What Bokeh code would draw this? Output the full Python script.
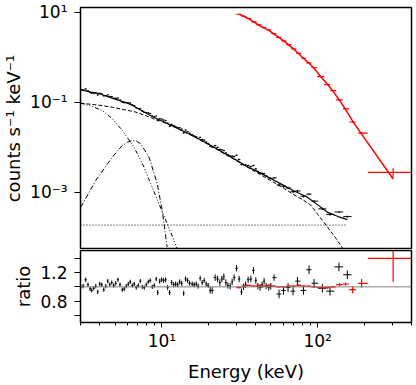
import numpy as np
from bokeh.plotting import figure
from bokeh.layouts import column
from bokeh.models import Range1d, FixedTicker, Span
from bokeh.embed import file_html
from bokeh.resources import INLINE

# ---------------- data ----------------
# black spectrum: bin centres (keV), flux (counts s^-1 keV^-1), ratio, ratio error
black_energy = [3.01, 3.12, 3.24, 3.35, 3.46, 3.54, 3.65, 3.76, 3.87, 3.99,
                4.11, 4.23, 4.36, 4.49, 4.62, 4.76, 4.90, 5.05, 5.22, 5.38,
                5.57, 5.73, 5.90, 6.08, 6.26, 6.45, 6.64, 6.84, 7.05, 7.26,
                7.48, 7.70, 7.93, 8.17, 8.41, 8.67, 8.93, 9.19, 9.39, 9.67,
                9.96, 10.25, 10.56, 10.88, 11.20, 11.54, 11.89, 12.24, 12.61, 12.99,
                13.38, 13.78, 14.19, 14.61, 15.05, 15.64, 16.11, 16.60, 17.09, 17.60,
                18.13, 18.67, 19.23, 19.81, 20.40, 21.01, 21.96, 22.76, 23.54, 24.25,
                24.97, 25.72, 26.49, 27.41, 28.23, 29.08, 30.12, 31.30, 32.43, 33.40,
                34.40, 35.75, 37.20, 38.71, 40.05, 41.25, 42.67, 43.95, 45.27, 46.62,
                48.52, 49.97, 52.47, 56.49, 60.27, 64.49, 69.45, 74.13, 80.97, 87.96,
                94.70, 107.2, 119.9, 136.9, 155.0]
black_flux = [0.189, 0.185, 0.196, 0.178, 0.163, 0.158, 0.159, 0.161, 0.144, 0.158,
              0.152, 0.138, 0.140, 0.145, 0.134, 0.133, 0.122, 0.122, 0.123, 0.111,
              0.100, 0.097, 0.098, 0.097, 0.095, 0.087, 0.084, 0.075, 0.072, 0.072,
              0.064, 0.059, 0.059, 0.058, 0.056, 0.049, 0.047, 0.049, 0.039, 0.043,
              0.042, 0.040, 0.039, 0.034, 0.029, 0.032, 0.030, 0.0288, 0.0272, 0.0270,
              0.0252, 0.0207, 0.0241, 0.0223, 0.0204, 0.0188, 0.0177, 0.0170, 0.0157, 0.0165,
              0.0147, 0.0144, 0.0130, 0.0120, 0.0105, 0.0100, 0.0108, 0.0099, 0.0089, 0.0087,
              0.0084, 0.0074, 0.0068, 0.0063, 0.0063, 0.0062, 0.0066, 0.0053, 0.0041, 0.0041,
              0.0040, 0.0039, 0.0037, 0.0039, 0.0033, 0.00287, 0.00264, 0.00261, 0.00258, 0.00229,
              0.00209, 0.00202, 0.00207, 0.00144, 0.00135, 0.00124, 0.00102, 0.00106, 0.00081, 0.00090,
              0.00063, 0.000424, 0.000319, 0.000361, 0.000285]
black_ratio = [1.00, 1.01, 1.10, 1.03, 0.97, 0.95, 0.98, 1.01, 0.93, 1.04,
               1.03, 0.96, 1.01, 1.08, 1.03, 1.06, 1.02, 1.05, 1.10, 1.03,
               0.96, 0.97, 1.01, 1.04, 1.07, 1.02, 1.04, 0.99, 1.02, 1.08,
               1.00, 0.99, 1.03, 1.07, 1.09, 1.00, 1.02, 1.11, 0.92, 1.08,
               1.10, 1.09, 1.10, 0.99, 0.92, 1.06, 1.03, 1.04, 1.03, 1.07,
               1.05, 0.91, 1.11, 1.09, 1.05, 1.04, 1.03, 1.04, 1.01, 1.12,
               1.06, 1.09, 1.04, 1.02, 0.95, 0.95, 1.13, 1.11, 1.06, 1.11,
               1.14, 1.06, 1.02, 1.01, 1.07, 1.13, 1.26, 1.11, 0.93, 1.00,
               1.03, 1.10, 1.11, 1.23, 1.09, 1.01, 0.99, 1.03, 1.08, 1.01,
               0.99, 1.01, 1.13, 0.90, 0.95, 0.99, 0.94, 1.08, 0.95, 1.24,
               1.05, 0.98, 0.94, 1.28, 1.17]
black_ratio_err = [0.03, 0.03, 0.03, 0.03, 0.03, 0.03, 0.03, 0.03, 0.03, 0.03,
                   0.03, 0.03, 0.03, 0.03, 0.03, 0.03, 0.03, 0.03, 0.03, 0.03,
                   0.03, 0.03, 0.03, 0.03, 0.03, 0.03, 0.03, 0.03, 0.03, 0.03,
                   0.03, 0.03, 0.03, 0.03, 0.03, 0.03, 0.03, 0.03, 0.035, 0.035,
                   0.035, 0.035, 0.035, 0.035, 0.035, 0.035, 0.035, 0.035, 0.035, 0.035,
                   0.035, 0.035, 0.035, 0.035, 0.035, 0.035, 0.035, 0.035, 0.035, 0.035,
                   0.035, 0.035, 0.035, 0.035, 0.045, 0.045, 0.045, 0.045, 0.045, 0.045,
                   0.045, 0.045, 0.045, 0.045, 0.045, 0.045, 0.045, 0.045, 0.045, 0.045,
                   0.045, 0.045, 0.045, 0.045, 0.045, 0.045, 0.045, 0.045, 0.045, 0.045,
                   0.045, 0.045, 0.045, 0.06, 0.06, 0.06, 0.06, 0.06, 0.06, 0.06,
                   0.06, 0.06, 0.06, 0.06, 0.06]

# black model components
total_e = [3.0, 3.5, 4.0, 5.0, 6.0, 6.5, 7.0, 8.0, 9.0, 10, 12, 15, 20, 25, 30,
           35, 40, 50, 60, 70, 85, 100, 115, 135, 155]
total_model = [0.19, 0.167, 0.152, 0.117, 0.095, 0.0845, 0.072, 0.056, 0.045, 0.038,
               0.0285, 0.0195, 0.0116, 0.0074, 0.0052, 0.0037, 0.0030, 0.0020, 0.00143,
               0.00107, 0.00079, 0.00052, 0.00036, 0.000286, 0.000244]
cutoffpl_e = [3.0, 4.0, 4.8, 6.0, 6.8, 8.0, 9.1, 10, 12, 15, 20, 25, 30, 40, 50,
              60, 70, 80, 90, 100, 110, 120, 127, 135, 144, 150]
cutoffpl_model = [0.095, 0.085, 0.077, 0.066, 0.060, 0.049, 0.041, 0.037, 0.028, 0.0192,
                  0.0113, 0.0072, 0.0050, 0.0028, 0.0018, 0.00125, 0.00088, 0.00068,
                  0.00052, 0.00032, 0.00021, 0.00014, 0.000109, 0.000080, 0.000058, 0.000046]
bbody_e = [3.01, 3.57, 4.14, 4.8, 5.57, 6.62, 7.67, 8.47, 9.57, 10.8, 12.2, 12.6]
bbody_model = [0.095, 0.080, 0.065, 0.043, 0.0235, 0.010, 0.0036, 0.00154, 0.00055,
               0.00020, 0.000071, 0.00005]
gauss_e = [3.01, 3.76, 4.8, 5.57, 6.0, 6.46, 6.9, 7.3, 8.26, 9.33, 10.04, 10.8]
gauss_model = [0.00046, 0.00182, 0.0060, 0.0109, 0.0128, 0.0141, 0.0135, 0.0119,
               0.0060, 0.00154, 0.00039, 0.00006]
const_e = [3.0, 153.0]
const_model = [0.000185, 0.000185]

# red spectrum
red_energy = [31.2, 33.6, 36.1, 38.9, 41.9, 45.1, 48.6, 52.3, 56.2, 60.5, 65.2, 70.2,
              75.5, 81.3, 87.5, 94.2, 104.4, 115.8, 124.7, 138.3, 151.1, 167.6, 191.3, 305.0]
red_e_lo = [30.0, 32.4, 34.8, 37.5, 40.4, 43.5, 46.8, 50.4, 54.2, 58.3, 62.8, 67.6,
            72.8, 78.3, 84.3, 90.8, 99.2, 110.0, 120.2, 131.3, 144.6, 159.1, 182.0, 210.0]
red_e_hi = [32.4, 34.8, 37.5, 40.4, 43.5, 46.8, 50.4, 54.2, 58.3, 62.8, 67.6, 72.8,
            78.3, 84.3, 90.8, 99.2, 110.0, 120.2, 131.3, 144.6, 159.1, 176.0, 209.0, 440.0]
red_flux = [8.98, 8.10, 7.23, 6.11, 5.22, 4.50, 4.02, 3.33, 2.75, 2.31, 1.89, 1.53,
            1.21, 0.945, 0.747, 0.581, 0.368, 0.245, 0.180, 0.112, 0.0707, 0.0362, 0.0205, 0.00274]
red_model = [9.07, 8.02, 7.09, 6.05, 5.12, 4.46, 3.94, 3.30, 2.75, 2.31, 1.87, 1.51,
             1.19, 0.936, 0.740, 0.581, 0.372, 0.247, 0.180, 0.109, 0.068, 0.0377, 0.0195, 0.00196]
red_ratio = [0.99, 1.01, 1.02, 1.01, 1.02, 1.01, 1.02, 1.01, 1.00, 1.00, 1.01, 1.01,
             1.02, 1.01, 1.01, 1.00, 0.99, 0.99, 1.00, 1.03, 1.04, 0.96, 1.05, 1.40]
red_ratio_err = [0.01, 0.01, 0.01, 0.01, 0.01, 0.01, 0.01, 0.01, 0.01, 0.01, 0.01, 0.01,
                 0.01, 0.01, 0.01, 0.01, 0.012, 0.015, 0.015, 0.02, 0.02, 0.05, 0.06, 0.33]

x_ticks = [10, 100]
x_tick_labels = ["10¹", "10²"]
y_ticks_top = [1e-3, 1e-1, 10]
y_tick_labels_top = ["10⁻³", "10⁻¹", "10¹"]

# ---------------- derived quantities ----------------
E = np.array(black_energy)
mids = np.sqrt(E[:-1] * E[1:])
b_lo = np.concatenate([[E[0] ** 2 / mids[0]], mids])
b_hi = np.concatenate([mids, [E[-1] ** 2 / mids[-1]]])
bf = np.array(black_flux)
br = np.array(black_ratio)
bre = np.array(black_ratio_err)
bfe = bf * bre / br

rf = np.array(red_flux)
rr = np.array(red_ratio)
rre = np.array(red_ratio_err)
rfe = rf * rre / rr

FONT = "DejaVu Sans"
RED = "#ff0000"


def style(p):
    p.outline_line_color = "black"
    p.outline_line_width = 1.5
    p.grid.visible = False
    p.background_fill_color = "white"
    p.border_fill_color = "white"
    for ax in p.axis:
        ax.axis_line_color = None
        ax.major_tick_line_color = "black"
        ax.minor_tick_line_color = "black"
        ax.major_tick_in = 0
        ax.major_tick_out = 5
        ax.minor_tick_in = 0
        ax.minor_tick_out = 3
        ax.major_label_text_font = FONT
        ax.major_label_text_font_size = "17px"
        ax.major_label_text_color = "black"
        ax.axis_label_text_font = FONT
        ax.axis_label_text_font_size = "18px"
        ax.axis_label_text_font_style = "normal"
        ax.axis_label_text_color = "black"
        ax.major_label_standoff = 3
        ax.axis_label_standoff = 6


x_range = Range1d(3, 400)

# ---------------- top panel ----------------
p1 = figure(width=414, height=249, x_axis_type="log", y_axis_type="log",
            x_range=x_range, y_range=Range1d(5.3e-5, 12.7),
            output_backend="svg", toolbar_location=None,
            min_border_top=7, min_border_bottom=0, min_border_left=79, min_border_right=3)
style(p1)
p1.xaxis.visible = False
p1.yaxis.ticker = FixedTicker(ticks=y_ticks_top, minor_ticks=[])
p1.yaxis.major_label_overrides = dict(zip(y_ticks_top, y_tick_labels_top))
p1.yaxis.axis_label = "counts s⁻¹ keV⁻¹"
p1.yaxis.major_tick_out = 6
p1.yaxis.major_label_standoff = 7
p1.yaxis.axis_label_standoff = 3

p1.line(const_e, const_model, line_color="black", line_width=1, line_dash="1 2")
p1.line(gauss_e, gauss_model, line_color="black", line_width=1, line_dash="5 2 1 2")
p1.line(bbody_e, bbody_model, line_color="black", line_width=1, line_dash="4 2 1 2 1 2 1 2")
p1.line(cutoffpl_e, cutoffpl_model, line_color="black", line_width=1, line_dash="4 2")
p1.line(total_e, total_model, line_color="black", line_width=1.2)
p1.segment(x0=b_lo, y0=bf, x1=b_hi, y1=bf, line_color="black", line_width=1)
p1.segment(x0=E, y0=bf - bfe, x1=E, y1=bf + bfe, line_color="black", line_width=1)
p1.segment(x0=red_e_lo, y0=rf, x1=red_e_hi, y1=rf, line_color=RED, line_width=1.2)
p1.segment(x0=red_energy, y0=rf - rfe, x1=red_energy, y1=rf + rfe, line_color=RED, line_width=1.2)
p1.line(red_energy, red_model, line_color=RED, line_width=1.5)

# ---------------- ratio panel ----------------
p2 = figure(width=414, height=135, x_axis_type="log",
            x_range=x_range, y_range=Range1d(0.5, 1.51),
            output_backend="svg", toolbar_location=None,
            min_border_top=1, min_border_bottom=0, min_border_left=79, min_border_right=3)
style(p2)
p2.xaxis.ticker = FixedTicker(ticks=x_ticks,
                              minor_ticks=[3, 4, 5, 6, 7, 8, 9, 20, 30, 40, 50, 60, 70, 80, 90,
                                           200, 300, 400])
p2.xaxis.major_label_overrides = dict(zip(x_ticks, x_tick_labels))
p2.xaxis.axis_label = "Energy (keV)"
p2.xaxis.major_label_standoff = 3
p2.xaxis.axis_label_standoff = 7
p2.yaxis.ticker = FixedTicker(ticks=[0.8, 1.2], minor_ticks=[0.6, 1.0, 1.4])
p2.yaxis.major_tick_out = 6
p2.yaxis.minor_tick_out = 6
p2.yaxis.major_label_standoff = 7
p2.yaxis.axis_label_standoff = 3
p2.yaxis.axis_label = "ratio"

p2.add_layout(Span(location=1.0, dimension="width", line_color="#808080", line_width=1))
p2.segment(x0=b_lo, y0=br, x1=b_hi, y1=br, line_color="black", line_width=1)
p2.segment(x0=E, y0=br - bre, x1=E, y1=br + bre, line_color="black", line_width=1)
p2.segment(x0=red_e_lo, y0=rr, x1=red_e_hi, y1=rr, line_color=RED, line_width=1.2)
p2.segment(x0=red_energy, y0=rr - rre, x1=red_energy, y1=rr + rre, line_color=RED, line_width=1.2)

layout = column(p1, p2, spacing=0)
open("out.html", "w").write(file_html(layout, INLINE))
